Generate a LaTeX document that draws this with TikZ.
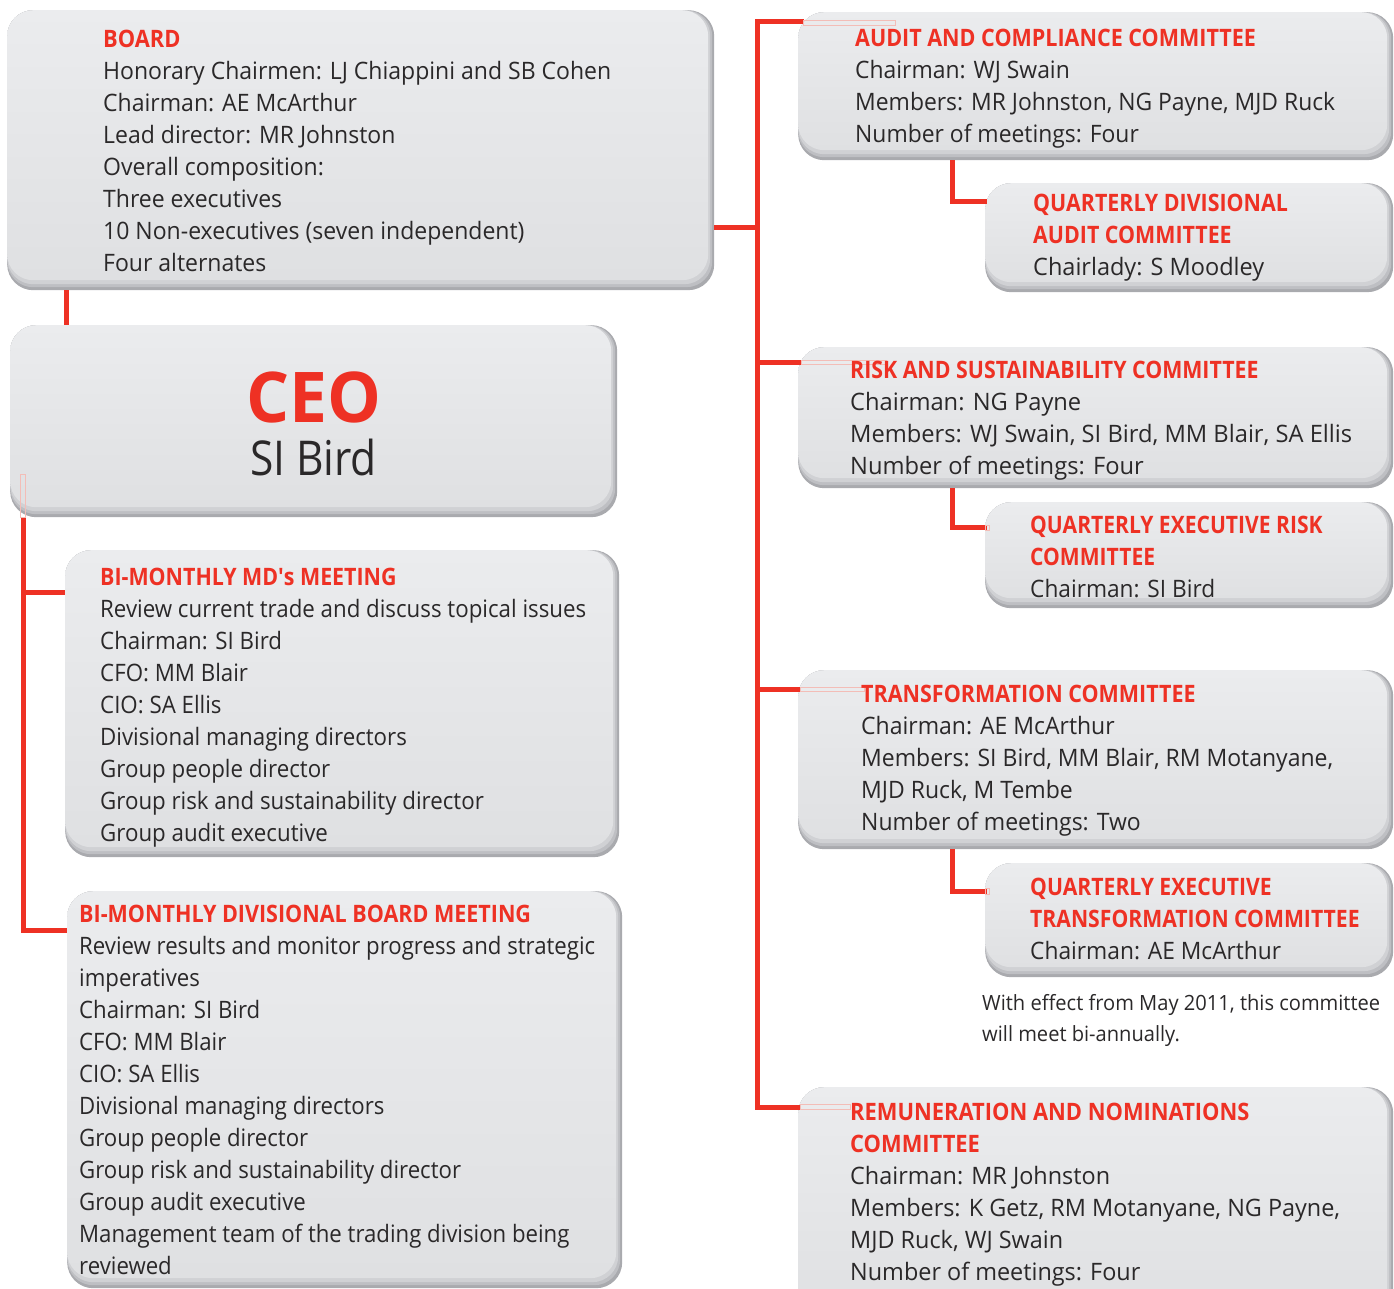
\documentclass[tikz,border=0pt]{standalone}
\usepackage{fontspec}
\setmainfont{Open Sans}
\usepackage{graphicx}
\usetikzlibrary{calc}

\definecolor{brandred}{HTML}{EE3124}
\definecolor{ink}{HTML}{2A2829}
\definecolor{boxfill}{HTML}{DFE0E2}
\definecolor{boxtop}{HTML}{EBECEE}
\definecolor{rimA}{HTML}{D0D1D4}
\definecolor{rimB}{HTML}{BEBFC3}
\definecolor{rimC}{HTML}{A9AAAE}
\definecolor{palered}{HTML}{F3BDB7}

% horizontal fitting of text blocks to a measured width
\newlength\fitref
\newcommand\fitw[2]{\settowidth\fitref{#2}\pgfmathsetmacro\fitsx{#1/\fitref}\scalebox{\fitsx}[1]{#2}}
\newcommand\fitlines[3]{\settowidth\fitref{#1}\pgfmathsetmacro\fitsx{#2/\fitref}\scalebox{\fitsx}[1]{\begin{tabular}[t]{@{}l@{}}#3\end{tabular}}}
% red heading, slightly condensed
\newcommand\hd[2][0.94]{\scalebox{#1}[1]{\bfseries\color{brandred}#2}}

\tikzset{
  panel/.style={anchor=north west, inner sep=0pt, rounded corners=26pt, fill=rimC,
    path picture={
      \fill[rimB, rounded corners=26pt] (path picture bounding box.north west)
        rectangle ([xshift=-2pt,yshift=3pt]path picture bounding box.south east);
      \fill[rimA, rounded corners=26pt] (path picture bounding box.north west)
        rectangle ([xshift=-4pt,yshift=6pt]path picture bounding box.south east);
      \shade[top color=boxtop, bottom color=boxfill, rounded corners=26pt]
        (path picture bounding box.north west)
        rectangle ([xshift=-6pt,yshift=10pt]path picture bounding box.south east);
    }},
  txt/.style={anchor=base west, inner sep=0pt, text=ink, font=\fontsize{24}{32}\selectfont},
  notetxt/.style={anchor=base west, inner sep=0pt, text=ink, font=\fontsize{21}{31}\selectfont},
  link/.style={draw=brandred, line width=5pt},
  faint/.style={draw=palered, line width=0.6pt}
}

\begin{document}
\begin{tikzpicture}[x=1pt,y=-1pt]
\useasboundingbox (0,0) rectangle (1394,1289);
\clip (0,0) rectangle (1394,1289);

% ---- boxes ----
\node[panel, minimum width=707pt, minimum height=280pt] (board) at (7,10) {};
\node[panel, minimum width=607pt, minimum height=192pt] (ceo) at (10,325) {};
\node[panel, minimum width=554pt, minimum height=307pt] (md) at (65,550) {};
\node[panel, minimum width=555pt, minimum height=397pt] (div) at (67,891) {};
\node[panel, minimum width=595pt, minimum height=148pt] (audit) at (798,12) {};
\node[panel, minimum width=408pt, minimum height=109pt] (qda) at (985,183) {};
\node[panel, minimum width=595pt, minimum height=141pt] (risk) at (798,347) {};
\node[panel, minimum width=408pt, minimum height=106pt] (qer) at (985,502) {};
\node[panel, minimum width=595pt, minimum height=179pt] (trans) at (798,670) {};
\node[panel, minimum width=408pt, minimum height=114pt] (qet) at (985,863) {};
\node[panel, minimum width=595pt, minimum height=240pt] (remun) at (798,1087) {};

% ---- junctions on the committee spine ----
\coordinate (spinetop) at (757,22);
\coordinate (spinebot) at (757,1107);
\coordinate (jboard) at (757,228);
\coordinate (jrisk) at (757,362);
\coordinate (jtrans) at (757,689);

% ---- connectors ----
\draw[link] ([xshift=59pt]board.south west) -- ([xshift=56pt]ceo.north west);
\draw[link] ([xshift=13pt]ceo.south west) |- ([yshift=-42pt]md.north west);
\draw[link] ([xshift=13pt]ceo.south west) |- ([yshift=-39pt]div.north west);
\draw[link] ([yshift=-218pt]board.north east) -- (jboard);
\draw[link] ([xshift=6pt,yshift=-10pt]audit.north west) -- (spinetop) -- (spinebot)
  -- ([xshift=2pt,yshift=-20pt]remun.north west);
\draw[link] (jrisk) -- ([xshift=3pt,yshift=-15pt]risk.north west);
\draw[link] (jtrans) -- ([xshift=2pt,yshift=-19pt]trans.north west);
\draw[link] ([xshift=154pt]audit.south west) |- ([xshift=2pt,yshift=-19pt]qda.north west);
\draw[link] ([xshift=154pt]risk.south west) |- ([xshift=2pt,yshift=-25pt]qer.north west);
\draw[link] ([xshift=154pt]trans.south west) |- ([xshift=2pt,yshift=-28pt]qet.north west);

% ---- pale guide marks ----
\draw[faint] (803,20.5) rectangle (895,25);
\draw[faint] (801,360) rectangle (886,364.5);
\draw[faint] (800,687) rectangle (864,691.5);
\draw[faint] (800,1104.5) rectangle (850,1109);
\draw[faint] (20.5,474) rectangle (25.5,517);
\draw[faint] (985,525) rectangle (989,530);
\draw[faint] (985,888) rectangle (989,894);

% ---- texts ----
\node[txt] (boardtxt) at (103,48) {\fitlines{Honorary Chairmen: LJ Chiappini and SB Cohen}{508}{%
  \hd[0.95]{BOARD}\\
  Honorary Chairmen: LJ Chiappini and SB Cohen\\
  Chairman: AE McArthur\\
  Lead director: MR Johnston\\
  Overall composition:\\
  Three executives\\
  10 Non-executives (seven independent)\\
  Four alternates}};

\node[anchor=base, inner sep=0pt, text=brandred, font=\fontsize{70}{70}\selectfont\bfseries]
  (ceohead) at (313.5,422) {\fitw{135}{CEO}};
\node[anchor=base, inner sep=0pt, text=ink, font=\fontsize{48}{48}\selectfont]
  (ceoname) at (313.5,475) {\fitw{127}{SI Bird}};

\node[txt] (mdtxt) at (100,585) {\fitlines{Review current trade and discuss topical issues}{486}{%
  \hd[0.96]{BI-MONTHLY MD\textquotesingle s MEETING}\\
  Review current trade and discuss topical issues\\
  Chairman: SI Bird\\
  CFO: MM Blair\\
  CIO: SA Ellis\\
  Divisional managing directors\\
  Group people director\\
  Group risk and sustainability director\\
  Group audit executive}};

\node[txt] (divtxt) at (79,922) {\fitlines{Review results and monitor progress and strategic}{516}{%
  \hd[0.97]{BI-MONTHLY DIVISIONAL BOARD MEETING}\\
  Review results and monitor progress and strategic\\
  imperatives\\
  Chairman: SI Bird\\
  CFO: MM Blair\\
  CIO: SA Ellis\\
  Divisional managing directors\\
  Group people director\\
  Group risk and sustainability director\\
  Group audit executive\\
  Management team of the trading division being\\
  reviewed}};

\node[txt] (audittxt) at (855,47) {\fitlines{Members: MR Johnston, NG Payne, MJD Ruck}{480}{%
  \hd[0.94]{AUDIT AND COMPLIANCE COMMITTEE}\\
  Chairman: WJ Swain\\
  Members: MR Johnston, NG Payne, MJD Ruck\\
  Number of meetings: Four}};

\node[txt] (qdatxt) at (1033,212) {\fitlines{Chairlady: S Moodley}{231}{%
  \hd[0.91]{QUARTERLY DIVISIONAL}\\
  \hd[0.91]{AUDIT COMMITTEE}\\
  Chairlady: S Moodley}};

\node[txt] (risktxt) at (850,378) {\fitlines{Members: WJ Swain, SI Bird, MM Blair, SA Ellis}{502}{%
  \hd[0.90]{RISK AND SUSTAINABILITY COMMITTEE}\\
  Chairman: NG Payne\\
  Members: WJ Swain, SI Bird, MM Blair, SA Ellis\\
  Number of meetings: Four}};

\node[txt] (qertxt) at (1030,533) {\fitlines{Chairman: SI Bird}{185}{%
  \hd[0.93]{QUARTERLY EXECUTIVE RISK}\\
  \hd[0.93]{COMMITTEE}\\
  Chairman: SI Bird}};

\node[txt] (transtxt) at (861,702) {\fitlines{Members: SI Bird, MM Blair, RM Motanyane,}{472}{%
  \hd[0.935]{TRANSFORMATION COMMITTEE}\\
  Chairman: AE McArthur\\
  Members: SI Bird, MM Blair, RM Motanyane,\\
  MJD Ruck, M Tembe\\
  Number of meetings: Two}};

\node[txt] (qettxt) at (1030,895) {\fitlines{Chairman: AE McArthur}{251}{%
  \hd[0.93]{QUARTERLY EXECUTIVE}\\
  \hd[0.93]{TRANSFORMATION COMMITTEE}\\
  Chairman: AE McArthur}};

\node[notetxt] (note) at (982,1010) {\fitlines{With effect from May 2011, this committee}{398}{%
  With effect from May 2011, this committee\\
  will meet bi-annually.}};

\node[txt] (remuntxt) at (850,1120) {\fitlines{Members: K Getz, RM Motanyane, NG Payne,}{490}{%
  \hd[0.935]{REMUNERATION AND NOMINATIONS}\\
  \hd[0.935]{COMMITTEE}\\
  Chairman: MR Johnston\\
  Members: K Getz, RM Motanyane, NG Payne,\\
  MJD Ruck, WJ Swain\\
  Number of meetings: Four}};

\end{tikzpicture}
\end{document}
